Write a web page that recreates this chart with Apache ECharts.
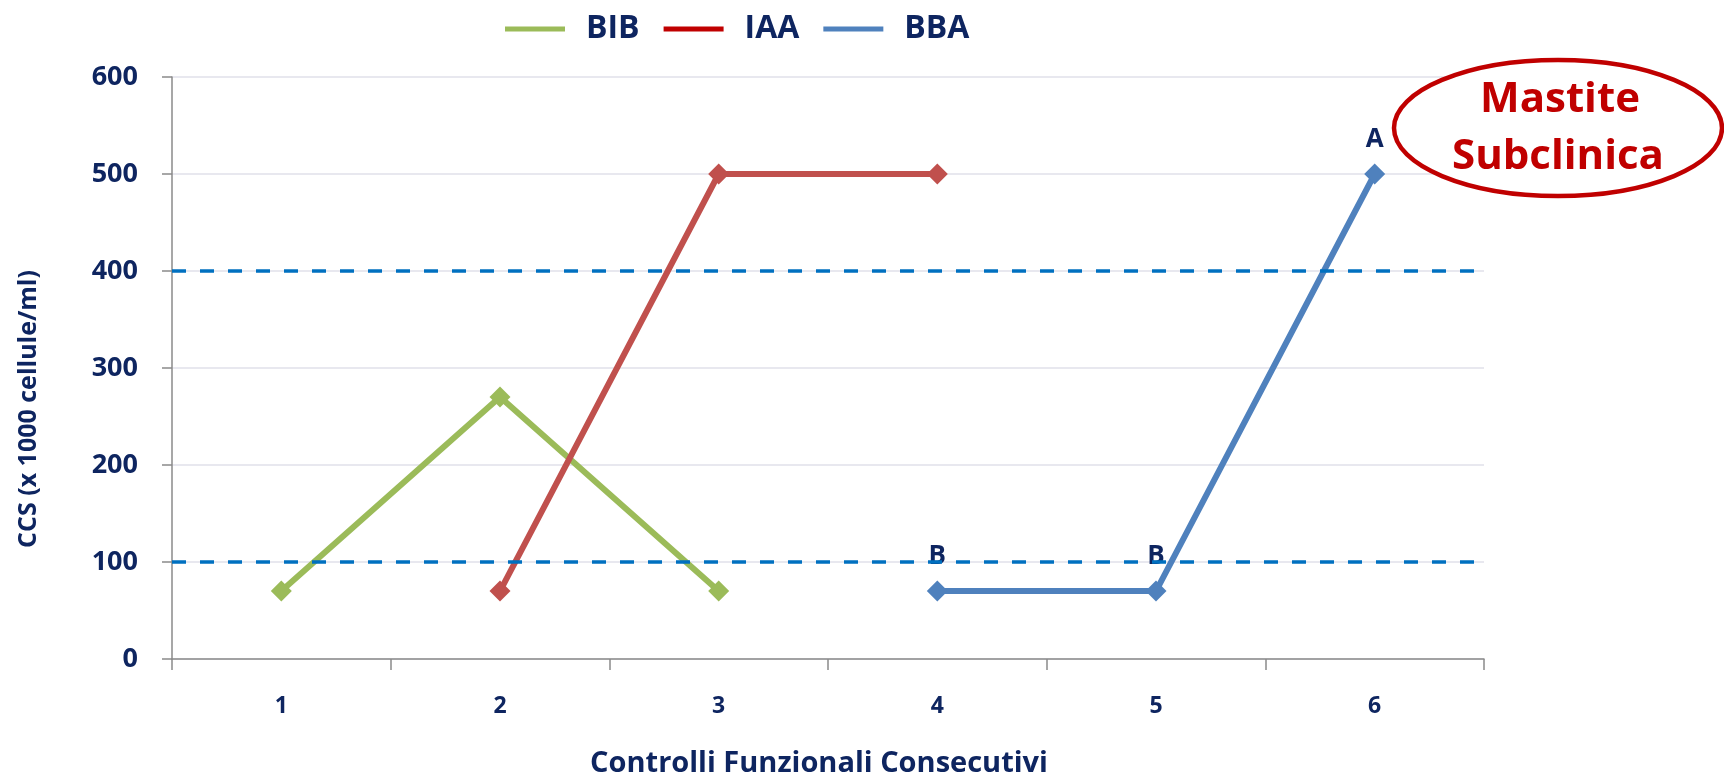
<!DOCTYPE html>
<html>
<head>
<meta charset="utf-8">
<title>CCS - Controlli Funzionali Consecutivi</title>
<script src="https://cdn.jsdelivr.net/npm/echarts@6/dist/echarts.min.js"></script>
<style>
  html, body { margin: 0; padding: 0; background: #ffffff; }
  #chart { width: 1724px; height: 783px; }
</style>
</head>
<body>
<div id="chart"></div>
<script>
// Consecutive functional checks (x axis) and somatic cell counts per group
const categories = ['1', '2', '3', '4', '5', '6'];
const bibValues = [70, 270, 70, null, null, null];
const iaaValues = [null, 70, 500, 500, null, null];
const bbaValues = [null, null, null, 70, 70, 500];
const bbaLabels = ['', '', '', 'B', 'B', 'A'];
const thresholds = [100, 400];
const yTicks = { min: 0, max: 600, interval: 100 };

const NAVY = '#0e2560';
const FONT = '"Open Sans", "DejaVu Sans", sans-serif';

const chart = echarts.init(document.getElementById('chart'), null, { renderer: 'canvas' });

function lineSeries(name, data, color, labels) {
  return {
    name: name,
    type: 'line',
    data: data,
    connectNulls: false,
    symbol: 'diamond',
    symbolSize: 21,
    lineStyle: { color: color, width: 6 },
    itemStyle: { color: color },
    label: labels ? {
      show: true,
      position: 'top',
      distance: 11,
      formatter: p => labels[p.dataIndex],
      color: NAVY,
      fontFamily: FONT,
      fontWeight: 'bold',
      fontSize: 26
    } : { show: false },
    z: 3
  };
}

const option = {
  backgroundColor: '#ffffff',
  animation: false,
  textStyle: { fontFamily: FONT },
  legend: {
    top: 8,
    left: 500,
    icon: 'rect',
    itemWidth: 60,
    itemHeight: 5,
    itemGap: 24,
    textStyle: { color: NAVY, fontFamily: FONT, fontWeight: 'bold', fontSize: 32, padding: [0, 0, 0, 16] },
    data: [
      { name: 'BIB', itemStyle: { color: '#9bbb59' } },
      { name: 'IAA', itemStyle: { color: '#c00000' } },
      { name: 'BBA', itemStyle: { color: '#4f81bd' } }
    ]
  },
  grid: { left: 172, right: 240, top: 77, bottom: 122, containLabel: false },
  xAxis: {
    type: 'category',
    data: categories,
    boundaryGap: true,
    name: 'Controlli Funzionali Consecutivi',
    nameLocation: 'middle',
    nameGap: 90,
    nameTextStyle: { color: NAVY, fontFamily: FONT, fontWeight: 'bold', fontSize: 29, padding: [0, 18, 0, 0] },
    axisLine: { lineStyle: { color: '#8a8a8a', width: 1.5 } },
    axisTick: { show: true, alignWithLabel: false, length: 11, lineStyle: { color: '#8a8a8a', width: 1.5 } },
    axisLabel: { margin: 36, color: NAVY, fontFamily: FONT, fontWeight: 'bold', fontSize: 23 },
    splitLine: { show: false }
  },
  yAxis: {
    type: 'value',
    min: yTicks.min,
    max: yTicks.max,
    interval: yTicks.interval,
    axisLine: { show: true, lineStyle: { color: '#8a8a8a', width: 1.5 } },
    axisTick: { show: true, length: 10, lineStyle: { color: '#8a8a8a', width: 1.5 } },
    axisLabel: { margin: 34, color: NAVY, fontFamily: FONT, fontWeight: 'bold', fontSize: 27 },
    splitLine: { show: true, lineStyle: { color: '#e0e0ea', width: 1.5 } }
  },
  series: [
    Object.assign(lineSeries('BIB', bibValues, '#9bbb59'), {
      markLine: {
        silent: true,
        symbol: ['none', 'none'],
        label: { show: false },
        lineStyle: { color: '#0070c0', type: [14, 14], width: 3.5 },
        data: thresholds.map(v => ({ yAxis: v })),
        z: 4
      }
    }),
    lineSeries('IAA', iaaValues, '#c0504d'),
    lineSeries('BBA', bbaValues, '#4f81bd', bbaLabels)
  ],
  graphic: [
    {
      type: 'text',
      x: 29,
      y: 409,
      rotation: Math.PI / 2,
      style: {
        text: 'CCS (x 1000 cellule/ml)',
        fill: NAVY,
        font: 'bold 25px ' + FONT,
        textAlign: 'center',
        textVerticalAlign: 'middle'
      }
    },
    {
      type: 'ellipse',
      shape: { cx: 1558, cy: 128, rx: 164, ry: 68 },
      style: { fill: '#ffffff', stroke: '#c00000', lineWidth: 4.5 },
      z: 10
    },
    {
      type: 'text',
      x: 1560,
      y: 100,
      style: {
        text: 'Mastite',
        fill: '#c00000',
        font: 'bold 42px ' + FONT,
        textAlign: 'center',
        textVerticalAlign: 'middle'
      },
      z: 11
    },
    {
      type: 'text',
      x: 1558,
      y: 157,
      style: {
        text: 'Subclinica',
        fill: '#c00000',
        font: 'bold 42px ' + FONT,
        textAlign: 'center',
        textVerticalAlign: 'middle'
      },
      z: 11
    }
  ]
};

chart.setOption(option);
</script>
</body>
</html>
